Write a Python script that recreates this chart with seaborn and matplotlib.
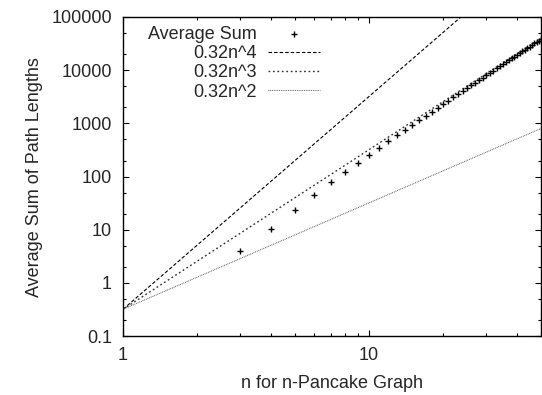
import numpy as np
import pandas as pd
import matplotlib
matplotlib.use("Agg")
import matplotlib.pyplot as plt
import matplotlib.ticker as mticker
import seaborn as sns

# ---- data ----
n_values = list(range(3, 51))
avg_sum = [4.0, 10.5, 24, 46, 78, 123, 181, 256, 348, 461, 595, 753, 936, 1147,
           1387, 1659, 1964, 2304, 2681, 3098, 3555, 4055, 4600, 5192, 5832,
           6523, 7266, 8064, 8918, 9830, 10803, 11837, 12936, 14100, 15333,
           16635, 18009, 19456, 20979, 22579, 24259, 26020, 27864, 29793,
           31810, 33915, 36111, 38400]
coef = 0.32
exponents = [4, 3, 2]
line_labels = ["0.32n^4", "0.32n^3", "0.32n^2"]
x_ticks = [1, 10]
y_ticks = [0.1, 1, 10, 100, 1000, 10000, 100000]
y_tick_labels = ["0.1", "1", "10", "100", "1000", "10000", "100000"]

sns.set_style("ticks")
plt.rcParams["font.family"] = ["Liberation Sans", "DejaVu Sans"]
plt.rcParams["font.size"] = 13

fig = plt.figure(figsize=(5.42, 3.95), dpi=100)
ax = fig.add_axes([0.227, 0.149, 0.771, 0.808])

df_pts = pd.DataFrame({"n": n_values, "v": avg_sum})
sns.scatterplot(data=df_pts, x="n", y="v", marker="+", s=22, color="black",
                linewidth=1.0, ax=ax, label="Average Sum", zorder=3)

n_line = np.linspace(1, 50, 200)
styles = [dict(ls=(0, (3.2, 1.8)), lw=0.8, color="black"),
          dict(ls=(0, (1.3, 1.9)), lw=1.0, color="#333333"),
          dict(ls=(0, (0.8, 0.8)), lw=0.8, color="#666666")]
for k, lab, st in zip(exponents, line_labels, styles):
    df_l = pd.DataFrame({"n": n_line, "v": coef * n_line ** k})
    sns.lineplot(data=df_l, x="n", y="v", ax=ax, label=lab, color=st["color"],
                 linewidth=st["lw"], linestyle=st["ls"])

ax.set_xscale("log")
ax.set_yscale("log")
ax.set_xlim(1, 50)
ax.set_ylim(0.1, 100000)

ax.xaxis.set_major_locator(mticker.FixedLocator(x_ticks))
ax.xaxis.set_major_formatter(mticker.FixedFormatter([str(t) for t in x_ticks]))
ax.xaxis.set_minor_locator(mticker.LogLocator(base=10, subs=np.arange(2, 10)))
ax.xaxis.set_minor_formatter(mticker.NullFormatter())
ax.yaxis.set_major_locator(mticker.FixedLocator(y_ticks))
ax.yaxis.set_major_formatter(mticker.FixedFormatter(y_tick_labels))
ax.yaxis.set_minor_locator(mticker.LogLocator(base=10, subs=[2, 5]))
ax.yaxis.set_minor_formatter(mticker.NullFormatter())

ax.tick_params(which="both", direction="in", top=True, right=True, color="black")
ax.tick_params(which="major", length=4, width=0.8, pad=8, labelsize=13)
ax.tick_params(which="minor", length=2.5, width=0.8)
for sp in ax.spines.values():
    sp.set_linewidth(1.0)
    sp.set_color("black")

ax.set_xlabel("n for n-Pancake Graph", fontsize=13, labelpad=8)
ax.set_ylabel("Average Sum of Path Lengths", fontsize=13, labelpad=6)

handles, labels = ax.get_legend_handles_labels()
ax.legend(handles, labels, loc="upper left", bbox_to_anchor=(0.038, 1.0),
          markerfirst=False, frameon=False, fontsize=13, handlelength=2.9,
          labelspacing=0.12, handletextpad=0.6, borderaxespad=0.3,
          borderpad=0.2)

fig.savefig("out.png", dpi=100)
